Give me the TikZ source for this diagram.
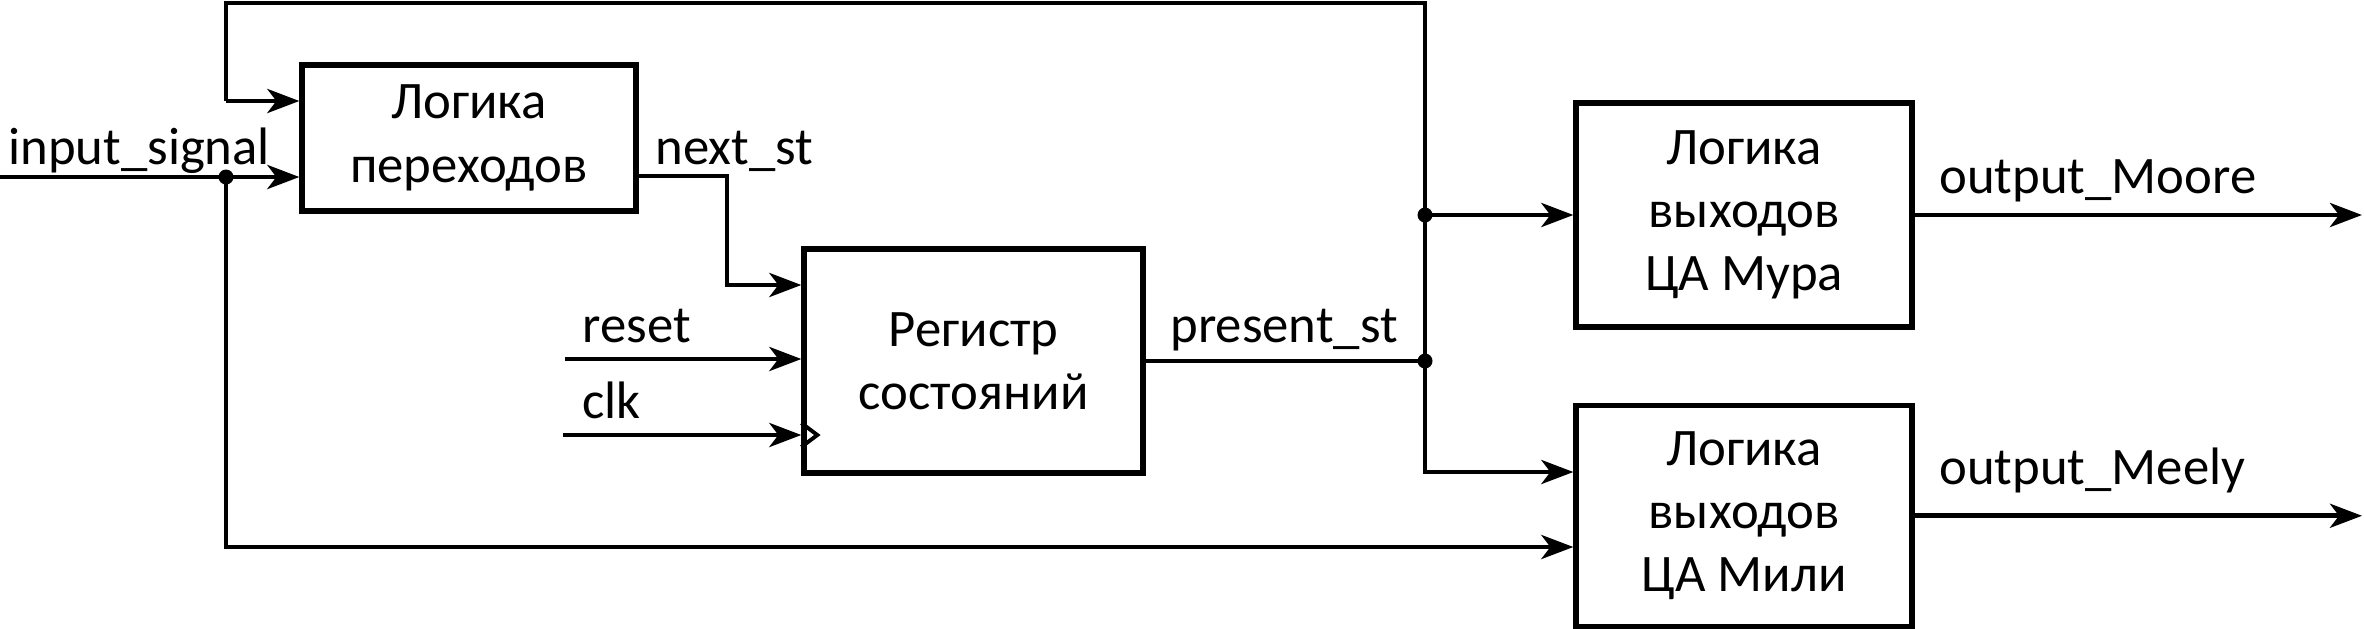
\documentclass[tikz,border=0pt]{standalone}
\usepackage{fontspec}
\setmainfont{Carlito}
\usepackage{tikz}
\usetikzlibrary{positioning,arrows.meta,calc}

\begin{document}
\begin{tikzpicture}[
  x=0.1mm, y=-0.1mm,
  font=\fontsize{15}{18}\selectfont,
  line width=1.4pt,
  box/.style={draw, line width=1.5pt, align=center, inner sep=0pt, minimum width=33.6mm, minimum height=22.4mm},
  arr/.style={-{Stealth[length=3.2mm, width=2.4mm, inset=0.9mm]}},
  dot/.style={circle, fill, inner sep=0pt, minimum size=1.5mm},
  lbl/.style={anchor=base west, inner sep=0pt}
]
\useasboundingbox (0,0) rectangle (2364,628);

\node[box, minimum width=33.4mm, minimum height=14.6mm] (trans) at (469,138) {Логика\\переходов};
\node[box, minimum width=33.9mm] (reg) at (973.5,361) {Регистр\\состояний};
\node[box] (moore) at (1744,215) {Логика\\выходов\\ЦА Мура};
\node[box, minimum height=22.1mm, below=7.3mm of moore] (mealy) {Логика\\выходов\\ЦА Мили};

% bus and tap points
\coordinate (in) at (0,177);
\coordinate (tap) at (226,177);
\coordinate (fb) at (226,101);
\coordinate (bus) at (1425,3);
\coordinate (nsx) at (727,285);
\coordinate (rst) at (565,359);
\coordinate (clk) at (563,435);
\coordinate (outx) at (2362,0);

% input_signal into transition logic and down to Mealy logic
\draw[arr] (in) -- (trans.west |- in);
\draw[arr] (tap) |- (mealy.west |- 0,547);
\node[dot] (d1) at (tap) {};

% state feedback over the top
\draw[arr] (fb) -- (trans.west |- fb);
\draw[arr] (fb) |- (bus) |- (mealy.west |- 0,472);

% next state into register
\draw[arr] ([yshift=-3.8mm]trans.east) -| (nsx) -- (reg.west |- nsx);
\draw[arr] (rst) -- (reg.west |- rst);
\draw[arr] (clk) -- (reg.west |- clk);
\draw[line width=1.1pt] ($(reg.west |- clk)+(0,-12)$) -- ++(16,12) -- ++(-16,12);

% present state onto the bus
\draw (reg.east) -- (reg.east -| bus);
\node[dot] (d2) at (reg.east -| bus) {};
\draw[arr] (bus |- moore.west) -- (moore.west);
\node[dot] (d3) at (bus |- moore.west) {};

% outputs
\draw[arr] (moore.east) -- (moore.east -| outx);
\draw[arr] (mealy.east) -- (mealy.east -| outx);

\node[lbl] (l1) at (6,164) {input\_signal};
\node[lbl] (l2) at (653,164) {next\_st};
\node[lbl] (l3) at (580,342) {reset};
\node[lbl] (l4) at (580,418) {clk};
\node[lbl] (l5) at (1168,342) {present\_st};
\node[lbl] (l6) at (1937,193) {output\_Moore};
\node[lbl] (l7) at (1937,484) {output\_Meely};
\end{tikzpicture}
\end{document}
